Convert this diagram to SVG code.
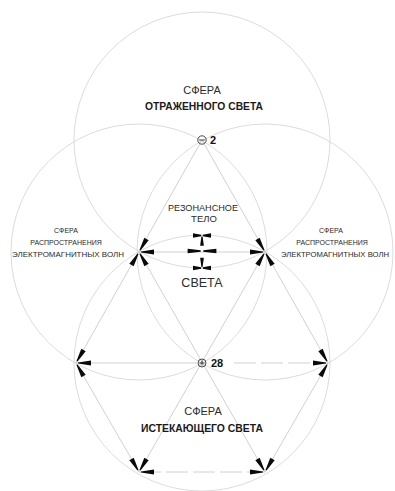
<svg xmlns="http://www.w3.org/2000/svg" xmlns:xlink="http://www.w3.org/1999/xlink" width="395" height="491" viewBox="0 0 395 491">
<style>
.sph{fill:none;stroke:#d2d2d2;stroke-width:0.8}
.ln{stroke:#c4c4c4;stroke-width:0.8;fill:none}
.dash{stroke-dasharray:22 5}
.w{fill:#0a0a0a}
.t{font-family:"Liberation Sans","DejaVu Sans",sans-serif;fill:#2a2a2a;text-anchor:middle}
.big{font-size:11px}
.hand{font-size:11.5px;font-weight:bold;fill:#1a1a1a}
.sm{font-size:7px}
.num{font-family:"Liberation Sans",Arial,sans-serif;font-weight:bold;font-size:11px;fill:#111}
.sym{fill:none;stroke:#333;stroke-width:0.9}
</style>
<defs>
<path id="wg" d="M2,-0.6 L15,-2.5 L15,2.5 L2,0.6 Z"/>
<path id="ws" d="M0.8,-0.7 L9,-2.2 L9,2.2 L0.8,0.7 Z"/>
</defs>
<rect width="395" height="491" fill="#fff"/>

<g id="spheres">
<g id="sphere-top"><circle class="sph" cx="202" cy="140" r="128"/></g>
<g id="sphere-left"><circle class="sph" cx="139" cy="252" r="128"/></g>
<g id="sphere-right"><circle class="sph" cx="265" cy="252" r="128"/></g>
<g id="sphere-bottom"><circle class="sph" cx="202" cy="363" r="128"/></g>
</g>

<g id="connectors">
<line class="ln" x1="202" y1="140" x2="76" y2="363"/>
<line class="ln" x1="202" y1="140" x2="328" y2="363"/>
<line class="ln" x1="139" y1="252" x2="265" y2="252"/>
<line class="ln" x1="139" y1="252" x2="265" y2="472"/>
<line class="ln" x1="265" y1="252" x2="139" y2="472"/>
<line class="ln" x1="76" y1="363" x2="197" y2="363"/>
<line class="ln dash" x1="234" y1="363" x2="328" y2="363"/>
<line class="ln" x1="76" y1="363" x2="139" y2="472"/>
<line class="ln" x1="328" y1="363" x2="265" y2="472"/>
<line class="ln dash" x1="139" y1="472" x2="265" y2="472"/>
</g>

<g id="node-top">
<circle class="sym" cx="202" cy="140" r="4.2"/>
<line class="sym" x1="199.2" y1="140" x2="204.8" y2="140"/>
<text class="num" x="210" y="144">2</text>
<text class="t big" x="202" y="94">СФЕРА</text>
<text class="t hand" x="204" y="110" textLength="118" lengthAdjust="spacingAndGlyphs">ОТРАЖЕННОГО СВЕТА</text>
</g>

<g id="node-left" class="w">
<use xlink:href="#wg" transform="translate(139,252) rotate(-60)"/>
<use xlink:href="#wg" transform="translate(139,252) rotate(0)"/>
<use xlink:href="#wg" transform="translate(139,252) rotate(60)"/>
<use xlink:href="#wg" transform="translate(139,252) rotate(120)"/>
</g>
<g id="node-right" class="w">
<use xlink:href="#wg" transform="translate(265,252) rotate(-120)"/>
<use xlink:href="#wg" transform="translate(265,252) rotate(180)"/>
<use xlink:href="#wg" transform="translate(265,252) rotate(120)"/>
<use xlink:href="#wg" transform="translate(265,252) rotate(60)"/>
</g>

<g id="resonant-body">
<text class="t" style="font-size:9.5px" x="203" y="211" textLength="70" lengthAdjust="spacingAndGlyphs">РЕЗОНАНСНОЕ</text>
<text class="t" style="font-size:9.5px" x="204" y="222">ТЕЛО</text>
<text class="t" style="font-size:12.5px" x="202" y="287">СВЕТА</text>
<g class="w">
<use xlink:href="#ws" transform="translate(202,235.5) rotate(180)"/>
<use xlink:href="#ws" transform="translate(202,235.5) rotate(0)"/>
<use xlink:href="#ws" transform="translate(202,235.5) rotate(90) scale(1.15,0.85)"/>
<use xlink:href="#ws" transform="translate(202,251) rotate(180) scale(1.6,1.05)"/>
<use xlink:href="#ws" transform="translate(202,251) rotate(0) scale(1.6,1.05)"/>
<use xlink:href="#ws" transform="translate(202,268) rotate(180)"/>
<use xlink:href="#ws" transform="translate(202,268) rotate(0)"/>
<use xlink:href="#ws" transform="translate(202,268) rotate(-90) scale(1.15,0.85)"/>
</g>
</g>

<g id="label-left">
<text class="t sm" x="66" y="233">СФЕРА</text>
<text class="t sm" x="66" y="245">РАСПРОСТРАНЕНИЯ</text>
<text class="t sm" x="68" y="257" textLength="112" lengthAdjust="spacingAndGlyphs">ЭЛЕКТРОМАГНИТНЫХ ВОЛН</text>
</g>
<g id="label-right">
<text class="t sm" x="331" y="233">СФЕРА</text>
<text class="t sm" x="332" y="245">РАСПРОСТРАНЕНИЯ</text>
<text class="t sm" x="335" y="257" textLength="108" lengthAdjust="spacingAndGlyphs">ЭЛЕКТРОМАГНИТНЫХ ВОЛН</text>
</g>

<g id="node-center">
<circle class="sym" cx="202" cy="363" r="4"/>
<line class="sym" x1="199.4" y1="363" x2="204.6" y2="363"/>
<line class="sym" x1="202" y1="360.4" x2="202" y2="365.6"/>
<text class="num" x="211" y="367">28</text>
</g>

<g id="node-e" class="w">
<use xlink:href="#wg" transform="translate(76,363) rotate(-60)"/>
<use xlink:href="#wg" transform="translate(76,363) rotate(0)"/>
<use xlink:href="#wg" transform="translate(76,363) rotate(60)"/>
</g>
<g id="node-f" class="w">
<use xlink:href="#wg" transform="translate(328,363) rotate(-120)"/>
<use xlink:href="#wg" transform="translate(328,363) rotate(180)"/>
<use xlink:href="#wg" transform="translate(328,363) rotate(120)"/>
</g>
<g id="node-g" class="w">
<use xlink:href="#wg" transform="translate(139,472) rotate(-120)"/>
<use xlink:href="#wg" transform="translate(139,472) rotate(-60)"/>
<use xlink:href="#wg" transform="translate(139,472) rotate(0)"/>
</g>
<g id="node-h" class="w">
<use xlink:href="#wg" transform="translate(265,472) rotate(-120)"/>
<use xlink:href="#wg" transform="translate(265,472) rotate(-60)"/>
<use xlink:href="#wg" transform="translate(265,472) rotate(180)"/>
</g>

<g id="label-bottom">
<text class="t big" x="203" y="415">СФЕРА</text>
<text class="t hand" x="202" y="432" textLength="122" lengthAdjust="spacingAndGlyphs">ИСТЕКАЮЩЕГО СВЕТА</text>
</g>
</svg>
